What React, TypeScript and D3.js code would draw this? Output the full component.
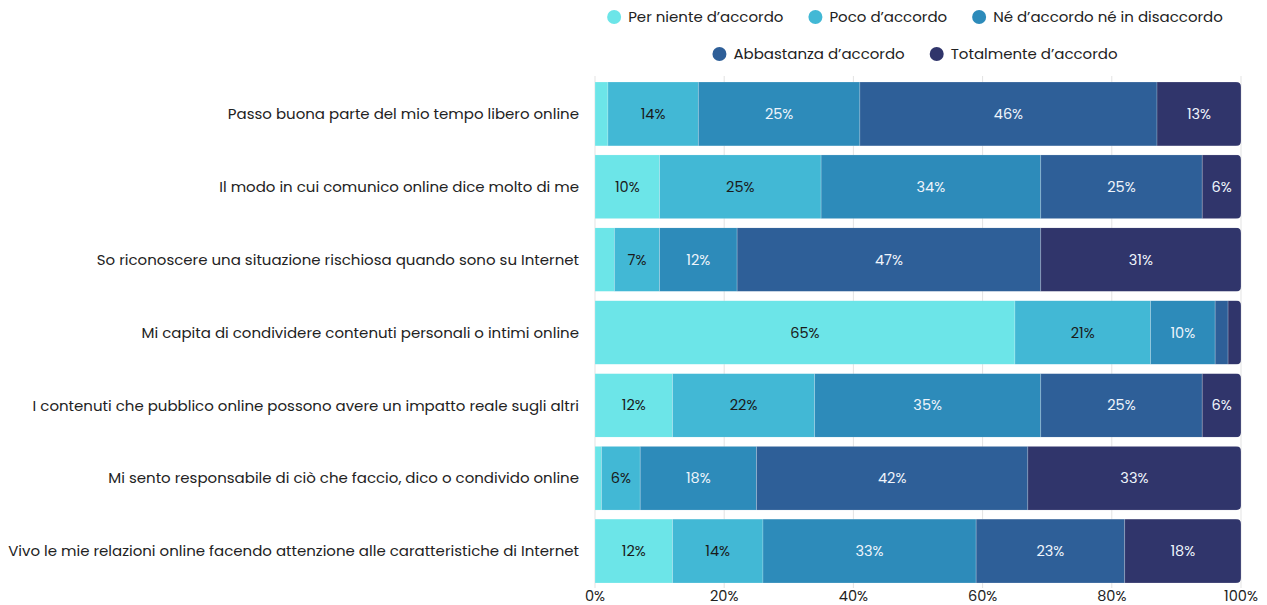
import * as d3 from "d3";
import { useEffect, useRef } from "react";

const categories = [
  "Passo buona parte del mio tempo libero online",
  "Il modo in cui comunico online dice molto di me",
  "So riconoscere una situazione rischiosa quando sono su Internet",
  "Mi capita di condividere contenuti personali o intimi online",
  "I contenuti che pubblico online possono avere un impatto reale sugli altri",
  "Mi sento responsabile di ciò che faccio, dico o condivido online",
  "Vivo le mie relazioni online facendo attenzione alle caratteristiche di Internet",
];

const seriesNames = [
  "Per niente d’accordo",
  "Poco d’accordo",
  "Né d’accordo né in disaccordo",
  "Abbastanza d’accordo",
  "Totalmente d’accordo",
];

const perNiente = [2, 10, 3, 65, 12, 1, 12];
const poco = [14, 25, 7, 21, 22, 6, 14];
const neNe = [25, 34, 12, 10, 35, 18, 33];
const abbastanza = [46, 25, 47, 2, 25, 42, 23];
const totalmente = [13, 6, 31, 2, 6, 33, 18];

const xTicks = [0, 20, 40, 60, 80, 100];

const colors = ["#6ce5e8", "#42b8d5", "#2d8bba", "#2e5f98", "#30356b"];
const textColors = ["#1a1a1a", "#1a1a1a", "#eef4fb", "#eef4fb", "#eef4fb"];

const W = 1267;
const H = 605;
const FONT = "Poppins, Inter, 'Open Sans', sans-serif";

const App = () => {
  const svgRef = useRef<SVGSVGElement>(null);

  useEffect(() => {
    if (!svgRef.current) return;
    const svg = d3.select(svgRef.current);
    svg.selectAll("*").remove();

    const series = [perNiente, poco, neNe, abbastanza, totalmente];
    const rows = categories.map((c, i) => {
      const r: any = { cat: c };
      seriesNames.forEach((s, j) => (r[s] = series[j][i]));
      return r;
    });
    const stacked = d3.stack().keys(seriesNames)(rows);

    const x = d3.scaleLinear().domain([0, 100]).range([595, 1241]);
    const y = d3
      .scaleBand()
      .domain(categories)
      .range([82, 583])
      .paddingInner(0.123)
      .paddingOuter(0);

    // gridlines
    svg
      .append("g")
      .selectAll("line")
      .data(xTicks)
      .join("line")
      .attr("x1", (d) => x(d))
      .attr("x2", (d) => x(d))
      .attr("y1", 76)
      .attr("y2", 588)
      .attr("stroke", "#e3e3e3")
      .attr("stroke-width", 1);

    // clip for rounded right end
    const defs = svg.append("defs");
    categories.forEach((c, i) => {
      defs
        .append("clipPath")
        .attr("id", `clip${i}`)
        .append("path")
        .attr("d", () => {
          const x0 = x(0), x1 = x(100), y0 = y(c)!, h = y.bandwidth(), r = 5;
          return `M${x0},${y0}H${x1 - r}Q${x1},${y0} ${x1},${y0 + r}V${y0 + h - r}Q${x1},${y0 + h} ${x1 - r},${y0 + h}H${x0}Z`;
        });
    });

    const rowsG = svg
      .append("g")
      .selectAll("g")
      .data(categories)
      .join("g")
      .attr("clip-path", (_, i) => `url(#clip${i})`);

    rowsG.each(function (c, i) {
      const g = d3.select(this);
      stacked.forEach((layer, j) => {
        const d = layer[i];
        g.append("rect")
          .attr("x", x(d[0]))
          .attr("y", y(c)!)
          .attr("width", x(d[1]) - x(d[0]))
          .attr("height", y.bandwidth())
          .attr("fill", colors[j])
          .attr("stroke", "rgba(255,255,255,0.25)")
          .attr("stroke-width", 0.8);
      });
    });

    // value labels
    stacked.forEach((layer, j) => {
      svg
        .append("g")
        .selectAll("text")
        .data(layer.filter((d) => d[1] - d[0] >= 5))
        .join("text")
        .attr("x", (d) => (x(d[0]) + x(d[1])) / 2)
        .attr("y", (d) => y((d.data as any).cat)! + y.bandwidth() / 2)
        .attr("dy", "0.35em")
        .attr("text-anchor", "middle")
        .attr("font-family", FONT)
        .attr("font-size", 14.5)
        .attr("fill", textColors[j])
        .text((d) => `${d[1] - d[0]}%`);
    });

    // category labels
    svg
      .append("g")
      .selectAll("text")
      .data(categories)
      .join("text")
      .attr("x", 579)
      .attr("y", (d) => y(d)! + y.bandwidth() / 2)
      .attr("dy", "0.35em")
      .attr("text-anchor", "end")
      .attr("font-family", FONT)
      .attr("font-size", 15)
      .attr("fill", "#222")
      .text((d) => d);

    // x axis labels
    svg
      .append("g")
      .selectAll("text")
      .data(xTicks)
      .join("text")
      .attr("x", (d) => x(d))
      .attr("y", 595.5)
      .attr("dy", "0.35em")
      .attr("text-anchor", "middle")
      .attr("font-family", FONT)
      .attr("font-size", 14.5)
      .attr("fill", "#222")
      .text((d) => `${d}%`);

    // legend
    const legendRows = [
      { items: [0, 1, 2], y: 17 },
      { items: [3, 4], y: 54 },
    ];
    const cx = 915;
    legendRows.forEach((lr) => {
      const g = svg.append("g");
      let off = 0;
      lr.items.forEach((k) => {
        const item = g.append("g").attr("transform", `translate(${off},${lr.y})`);
        item.append("circle").attr("cx", 7).attr("cy", 0).attr("r", 7).attr("fill", colors[k]);
        const t = item
          .append("text")
          .attr("x", 21)
          .attr("dy", "0.35em")
          .attr("font-family", FONT)
          .attr("font-size", 15)
          .attr("fill", "#222")
          .text(seriesNames[k]);
        const w = (t.node() as SVGTextElement).getComputedTextLength();
        off += 21 + w + 25;
      });
      const total = off - 25;
      g.attr("transform", `translate(${cx - total / 2},0)`);
    });
  }, []);

  return (
    <svg
      ref={svgRef}
      width={W}
      height={H}
      style={{ display: "block", position: "absolute", left: 0, top: 0 }}
    />
  );
};

export default App;
